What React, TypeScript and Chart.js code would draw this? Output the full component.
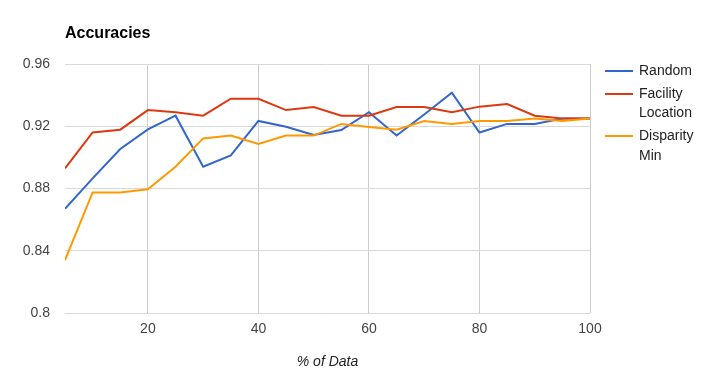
import React, { useEffect, useRef } from "react";
import { Chart, registerables } from "chart.js";

Chart.register(...registerables);

const xValues = [5, 10, 15, 20, 25, 30, 35, 40, 45, 50, 55, 60, 65, 70, 75, 80, 85, 90, 95, 100];
const randomAcc = [0.867, 0.8865, 0.9054, 0.918, 0.9268, 0.894, 0.9013, 0.9234, 0.9197, 0.9144, 0.9176, 0.929, 0.914, 0.9275, 0.9416, 0.916, 0.9215, 0.9215, 0.925, 0.925];
const facilityAcc = [0.893, 0.916, 0.9178, 0.9304, 0.929, 0.9268, 0.9377, 0.9377, 0.9304, 0.9324, 0.9268, 0.9268, 0.9324, 0.9324, 0.929, 0.9326, 0.9343, 0.9268, 0.925, 0.925];
const disparityAcc = [0.834, 0.8775, 0.8775, 0.8795, 0.894, 0.9122, 0.914, 0.9086, 0.914, 0.914, 0.9215, 0.9195, 0.9178, 0.9234, 0.9215, 0.9234, 0.9234, 0.925, 0.9234, 0.925];
const xTicks = [20, 40, 60, 80, 100];
const yTicks = [0.8, 0.84, 0.88, 0.92, 0.96];
const seriesNames = ["Random", "Facility Location", "Disparity Min"];
const seriesColors = ["#3366cc", "#dc3912", "#ff9900"];
const titleText = "Accuracies";
const xTitle = "% of Data";

const FONT = "'Liberation Sans', Arial, sans-serif";

export default function App() {
  const ref = useRef<HTMLCanvasElement | null>(null);

  useEffect(() => {
    if (!ref.current) return;
    const seriesData = [randomAcc, facilityAcc, disparityAcc];
    const chart = new Chart(ref.current, {
      type: "line",
      data: {
        datasets: seriesNames.map((name, i) => ({
          label: name,
          data: xValues.map((x, j) => ({ x, y: seriesData[i][j] })),
          borderColor: seriesColors[i],
          backgroundColor: seriesColors[i],
          borderWidth: 2,
          pointRadius: 0,
          tension: 0,
          fill: false,
          order: 3 - i,
        })),
      },
      options: {
        responsive: false,
        animation: false,
        layout: { padding: { left: 0, right: 114, top: 64, bottom: 0 } },
        plugins: {
          legend: { display: false },
          tooltip: { enabled: false },
          title: { display: false },
        },
        scales: {
          x: {
            type: "linear",
            min: 5,
            max: 100,
            afterBuildTicks: (scale: any) => {
              scale.ticks = xTicks.map((v) => ({ value: v }));
            },
            afterFit: (scale: any) => {
              scale.height = 70;
            },
            grid: { color: "#cccccc", drawTicks: false, lineWidth: 1 },
            border: { display: false },
            ticks: {
              padding: 8,
              color: "#444444",
              font: { family: FONT, size: 14 },
              callback: (v: any) => String(v),
            },
            title: {
              display: true,
              text: xTitle,
              color: "#222222",
              font: { family: FONT, size: 14, style: "italic" },
              padding: { top: 0, bottom: 12 },
            },
          },
          y: {
            type: "linear",
            min: 0.8,
            max: 0.96,
            afterBuildTicks: (scale: any) => {
              scale.ticks = yTicks.map((v) => ({ value: v }));
            },
            afterFit: (scale: any) => {
              scale.width = 65;
            },
            grid: { color: "#d9d9d9", drawTicks: false, lineWidth: 1 },
            border: { display: false },
            ticks: {
              padding: 15,
              color: "#444444",
              font: { family: FONT, size: 14 },
              callback: (v: any) => String(Number(Number(v).toFixed(2))),
            },
          },
        },
      },
    } as any);
    return () => chart.destroy();
  }, []);

  return (
    <div style={{ position: "fixed", left: 0, top: 0, width: 704, height: 383, background: "#fff", fontFamily: FONT }}>
      <canvas ref={ref} width={704} height={383} style={{ display: "block", width: 704, height: 383 }} />
      <div
        style={{
          position: "absolute",
          left: 65,
          top: 23,
          fontSize: 16,
          lineHeight: "20px",
          fontWeight: "bold",
          color: "#000",
        }}
      >
        {titleText}
      </div>
      {seriesNames.map((name, i) => {
        const tops = [61.2, 83.9, 126.2];
        return (
          <div key={name} style={{ position: "absolute", left: 605, top: tops[i], width: 100 }}>
            <div
              style={{
                position: "absolute",
                left: 0,
                top: 8.8,
                width: 28,
                height: 2,
                background: seriesColors[i],
              }}
            />
            <div
              style={{
                position: "absolute",
                left: 34,
                top: 0,
                width: 62,
                fontSize: 14,
                lineHeight: "19.6px",
                color: "#222222",
              }}
            >
              {name}
            </div>
          </div>
        );
      })}
    </div>
  );
}
